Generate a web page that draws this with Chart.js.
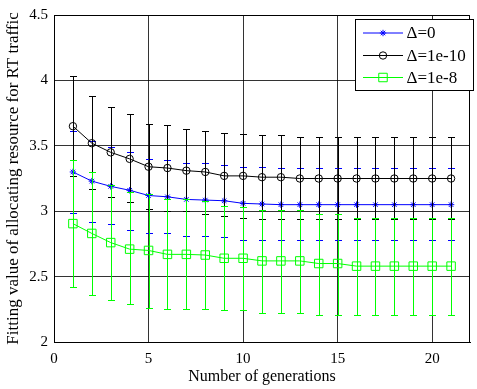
<!DOCTYPE html>
<html><head><meta charset="utf-8">
<script src="https://cdn.jsdelivr.net/npm/chart.js@4/dist/chart.umd.min.js"></script>
<style>html,body{margin:0;padding:0;background:#fff;overflow:hidden}#wrap{width:477px;height:389px;position:relative}</style>
</head><body><div id="wrap"><canvas id="c" width="477" height="389"></canvas></div>
<script>
// ---- data ----
const generations = [1,2,3,4,5,6,7,8,9,10,11,12,13,14,15,16,17,18,19,20,21];
const xTicks = [0,5,10,15,20];
const yTicks = [2,2.5,3,3.5,4,4.5];
const yTickLabels = ['2','2.5','3','3.5','4','4.5'];
const seriesNames = ['Δ=0','Δ=1e-10','Δ=1e-8'];
const xTitle = 'Number of generations';
const yTitle = 'Fitting value of allocating resource for RT traffic';

const meanD0  = [3.30,3.23,3.19,3.16,3.12,3.11,3.09,3.085,3.08,3.06,3.055,3.05,3.05,3.05,3.05,3.05,3.05,3.05,3.05,3.05,3.05];
const upperD0 = [3.615,3.54,3.49,3.45,3.40,3.39,3.37,3.37,3.35,3.34,3.34,3.33,3.33,3.33,3.33,3.33,3.33,3.33,3.33,3.33,3.33];
const lowerD0 = [2.985,2.92,2.90,2.86,2.83,2.83,2.81,2.81,2.80,2.78,2.78,2.78,2.78,2.78,2.78,2.78,2.78,2.78,2.78,2.78,2.78];

const meanD10  = [3.65,3.52,3.45,3.40,3.34,3.33,3.31,3.30,3.27,3.27,3.26,3.26,3.25,3.25,3.25,3.25,3.25,3.25,3.25,3.25,3.25];
const upperD10 = [4.03,3.88,3.80,3.74,3.67,3.66,3.63,3.61,3.60,3.59,3.58,3.58,3.57,3.57,3.57,3.57,3.57,3.57,3.57,3.57,3.57];
const lowerD10 = [3.27,3.17,3.11,3.07,3.02,3.00,3.00,2.98,2.96,2.95,2.94,2.94,2.94,2.94,2.94,2.94,2.94,2.94,2.94,2.94,2.94];

const meanD8  = [2.905,2.83,2.76,2.71,2.70,2.67,2.67,2.665,2.64,2.64,2.62,2.62,2.62,2.60,2.60,2.58,2.58,2.58,2.58,2.58,2.58];
const upperD8 = [3.39,3.30,3.20,3.15,3.13,3.09,3.09,3.08,3.04,3.03,3.01,3.01,3.01,2.98,2.98,2.95,2.95,2.95,2.95,2.95,2.95];
const lowerD8 = [2.42,2.36,2.32,2.29,2.26,2.25,2.25,2.25,2.245,2.245,2.22,2.22,2.22,2.21,2.21,2.21,2.21,2.21,2.21,2.21,2.21];

// ---- build datasets ----
const SERIF = "'Liberation Serif','Times New Roman',serif";
function pts(m){ return generations.map((g,i)=>({x:g,y:m[i]})); }
const styles = [
  {color:'#0000ff', pointStyle:'star',   radius:3.2, order:3},
  {color:'#000000', pointStyle:'circle', radius:3.7, order:2},
  {color:'#00ff00', pointStyle:'rect',   radius:6.0, order:1}
];
const means = [meanD0, meanD10, meanD8];
const uppers = [upperD0, upperD10, upperD8];
const lowers = [lowerD0, lowerD10, lowerD8];
const datasets = seriesNames.map((n,k)=>({
  label:n, data:pts(means[k]), upper:uppers[k], lower:lowers[k],
  borderColor:styles[k].color, backgroundColor:'rgba(0,0,0,0)',
  pointBackgroundColor:'rgba(0,0,0,0)', pointBorderColor:styles[k].color,
  pointStyle:styles[k].pointStyle, pointRadius:styles[k].radius, pointBorderWidth:1,
  borderWidth:1, tension:0, order:styles[k].order
}));

const errorBars = {
  id:'errorBars',
  beforeDatasetDraw(chart, args){
    const ds = chart.data.datasets[args.index];
    const xs = chart.scales.x, ys = chart.scales.y, ctx = chart.ctx;
    const a = chart.chartArea;
    ctx.save();
    ctx.beginPath(); ctx.rect(a.left, a.top, a.right-a.left, a.bottom-a.top); ctx.clip();
    ctx.strokeStyle = ds.borderColor; ctx.lineWidth = 1;
    generations.forEach((g,i)=>{
      const px = Math.round(xs.getPixelForValue(g)) + 0.5;
      const yh = Math.round(ys.getPixelForValue(ds.upper[i])) + 0.5;
      const yl = Math.round(ys.getPixelForValue(ds.lower[i])) + 0.5;
      ctx.beginPath();
      ctx.moveTo(px, yh); ctx.lineTo(px, yl);
      ctx.moveTo(px-3.5, yh); ctx.lineTo(px+3.5, yh);
      ctx.moveTo(px-3.5, yl); ctx.lineTo(px+3.5, yl);
      ctx.stroke();
    });
    ctx.restore();
  }
};

const frameAndLegend = {
  id:'frameAndLegend',
  afterDraw(chart){
    const ctx = chart.ctx, a = chart.chartArea;
    ctx.save();
    ctx.strokeStyle = '#000'; ctx.lineWidth = 1;
    ctx.beginPath();
    ctx.moveTo(Math.round(a.left)+0.5, Math.round(a.top)+0.5);
    ctx.lineTo(Math.round(a.right)-0.5, Math.round(a.top)+0.5);
    ctx.lineTo(Math.round(a.right)-0.5, Math.round(a.bottom)+0.5);
    ctx.stroke();
    // legend box
    const bx = 355.5, by = 19.5, bw = 118, bh = 71;
    ctx.fillStyle = '#fff'; ctx.fillRect(bx, by, bw, bh);
    ctx.strokeRect(bx, by, bw, bh);
    const rows = [33, 55.5, 77.5];
    chart.data.datasets.forEach((ds,k)=>{
      const y = rows[k];
      ctx.strokeStyle = ds.borderColor; ctx.lineWidth = 1;
      ctx.beginPath(); ctx.moveTo(363, y); ctx.lineTo(403, y); ctx.stroke();
      ctx.fillStyle = 'rgba(0,0,0,0)';
      Chart.helpers.drawPoint(ctx, {pointStyle: ds.pointStyle, radius: ds.pointRadius, rotation:0, borderWidth:1}, 383, y);
      ctx.fillStyle = '#000';
      ctx.font = "17px " + SERIF;
      ctx.textAlign = 'left'; ctx.textBaseline = 'middle';
      ctx.fillText(ds.label, 406.5, y + 1);
    });
    ctx.restore();
  }
};

new Chart(document.getElementById('c'), {
  type:'line',
  data:{datasets},
  plugins:[errorBars, frameAndLegend],
  options:{
    responsive:false, animation:false, devicePixelRatio:1,
    layout:{padding:{top:13.5, left:0, right:0, bottom:0}},
    plugins:{legend:{display:false}, tooltip:{enabled:false}},
    scales:{
      x:{
        type:'linear', min:0, max:22,
        afterBuildTicks(s){ s.ticks = xTicks.map(v=>({value:v})); },
        afterFit(s){ s.height = 47; },
        grid:{color:'rgba(0,0,0,0.8)', drawTicks:false, lineWidth:1},
        border:{color:'#000', width:1},
        ticks:{color:'#000', padding:8, font:{family:SERIF, size:15}, maxRotation:0,
               callback:(v)=>String(v)},
        title:{display:true, text:xTitle, color:'#000', font:{family:SERIF, size:16}, padding:{top:0,bottom:3}}
      },
      y:{
        type:'linear', min:2, max:4.5,
        afterBuildTicks(s){ s.ticks = yTicks.map(v=>({value:v})); },
        afterFit(s){ s.width = 54; },
        grid:{color:'rgba(0,0,0,0.8)', drawTicks:false, lineWidth:1},
        border:{color:'#000', width:1},
        ticks:{color:'#000', padding:6, font:{family:SERIF, size:15},
               callback:(v)=>{ const i = yTicks.indexOf(v); return i >= 0 ? yTickLabels[i] : ''; }},
        title:{display:true, text:yTitle, color:'#000', font:{family:SERIF, size:17}, padding:{top:3,bottom:0}}
      }
    }
  }
});
</script></body></html>
